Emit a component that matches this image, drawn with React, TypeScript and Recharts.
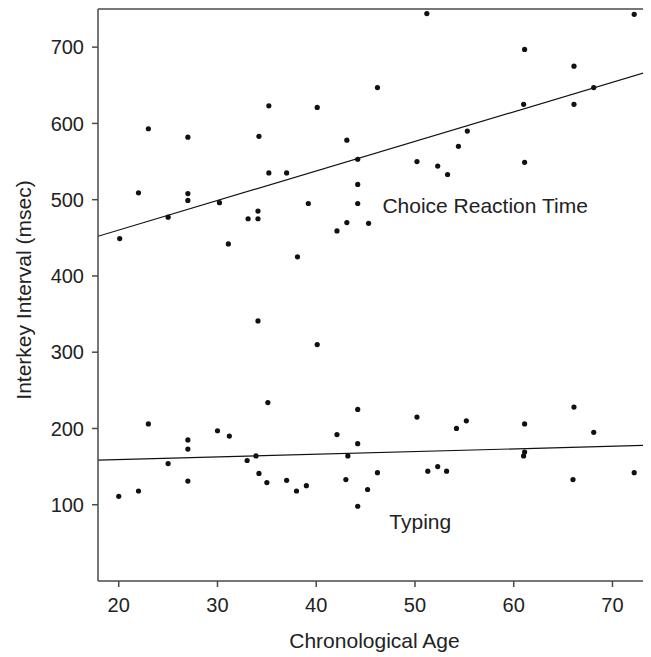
import React from "react";
import {
  ScatterChart,
  Scatter,
  XAxis,
  YAxis,
  ReferenceLine,
  ReferenceDot,
  Line,
  ComposedChart,
} from "recharts";

const xTicks = [20, 30, 40, 50, 60, 70];
const yTicks = [100, 200, 300, 400, 500, 600, 700];

const crtAge = [20.1, 22.0, 23.0, 25.0, 27.0, 27.0, 27.0, 30.2, 31.1, 33.1, 34.1, 34.1, 34.2, 35.2, 35.2, 37.0, 38.1, 39.2, 40.1, 42.1, 43.1, 43.1, 44.2, 44.2, 44.2, 45.3, 46.2, 50.2, 51.2, 52.3, 53.3, 54.4, 55.3, 61.0, 61.1, 61.1, 66.1, 66.1, 68.1, 72.2];
const crtMs = [449, 509, 593, 477, 582, 508, 499, 496, 442, 475, 475, 485, 583, 623, 535, 535, 425, 495, 621, 459, 578, 470, 553, 520, 495, 469, 647, 550, 744, 544, 533, 570, 590, 625, 697, 549, 675, 625, 647, 743];

const typingAge = [20.0, 22.0, 23.0, 25.0, 27.0, 27.0, 27.0, 30.0, 31.2, 33.0, 33.9, 34.1, 34.2, 35.1, 35.0, 37.0, 38.0, 39.0, 40.1, 42.1, 43.0, 43.2, 44.2, 44.2, 44.2, 45.2, 46.2, 50.2, 51.3, 52.3, 53.2, 54.2, 55.2, 61.1, 61.1, 61.0, 66.1, 66.0, 68.1, 72.2];
const typingMs = [111, 118, 206, 154, 185, 173, 131, 197, 190, 158, 164, 341, 141, 234, 129, 132, 118, 125, 310, 192, 133, 164, 225, 180, 98, 120, 142, 215, 144, 150, 144, 200, 210, 206, 169, 164, 228, 133, 195, 142];

const fitAge = [17.9, 73.9];
const crtFit = [452, 669];
const typingFit = [158.5, 178.1];

const crtData = crtAge.map((a, i) => ({ age: a, ms: crtMs[i] }));
const typingData = typingAge.map((a, i) => ({ age: a, ms: typingMs[i] }));
const crtFitData = fitAge.map((a, i) => ({ age: a, ms: crtFit[i] }));
const typingFitData = fitAge.map((a, i) => ({ age: a, ms: typingFit[i] }));

const FONT = "'Liberation Sans', Arial, Helvetica, sans-serif";
const AXIS = "#4a4a4a";
const TEXT = "#222";

const Dot = (props: any) => {
  const { cx, cy } = props;
  if (cx == null || cy == null) return null;
  return <circle cx={cx} cy={cy} r={2.6} fill="#111" />;
};

const makeText = (label: string) => (props: any) => {
  const { cx, cy } = props;
  return (
    <text x={cx} y={cy} fill={TEXT} fontSize={21} fontFamily={FONT} textAnchor="start">
      {label}
    </text>
  );
};

export default function App() {
  return (
    <div style={{ width: 643, height: 649 }}>
      <ComposedChart
        width={643}
        height={649}
        margin={{ top: 1, right: 0, bottom: 0, left: 0 }}
      >
        <XAxis
          dataKey="age"
          type="number"
          domain={[17.9, 73.9]}
          ticks={xTicks}
          allowDataOverflow
          height={76}
          stroke={AXIS}
          strokeWidth={1.5}
          tickSize={6}
          tickMargin={11}
          tick={{ fill: TEXT, fontSize: 20, fontFamily: FONT }}
          label={{
            content: (p: any) => {
              const vb = p.viewBox;
              return (
                <text
                  x={vb.x + vb.width / 2}
                  y={vb.y + 67}
                  textAnchor="middle"
                  fill={TEXT}
                  fontSize={21}
                  fontFamily={FONT}
                >
                  Chronological Age
                </text>
              );
            },
          }}
        />
        <YAxis
          dataKey="ms"
          type="number"
          domain={[0, 750]}
          ticks={yTicks}
          allowDataOverflow
          width={90}
          stroke={AXIS}
          strokeWidth={1.5}
          tickSize={6}
          tickMargin={8}
          tick={{ fill: TEXT, fontSize: 20, fontFamily: FONT }}
          label={{
            content: (p: any) => {
              const vb = p.viewBox;
              const x = vb.x + 15;
              const y = vb.y + vb.height / 2 - 5;
              return (
                <text
                  x={x}
                  y={y}
                  transform={`rotate(-90 ${x} ${y})`}
                  textAnchor="middle"
                  dominantBaseline="central"
                  fill={TEXT}
                  fontSize={21}
                  fontFamily={FONT}
                >
                  Interkey Interval (msec)
                </text>
              );
            },
          }}
        />
        <ReferenceLine y={750} stroke={AXIS} strokeWidth={1.5} />
        <Line
          data={crtFitData}
          dataKey="ms"
          stroke="#111"
          strokeWidth={1.2}
          dot={false}
          activeDot={false}
          isAnimationActive={false}
          type="linear"
        />
        <Line
          data={typingFitData}
          dataKey="ms"
          stroke="#111"
          strokeWidth={1.2}
          dot={false}
          activeDot={false}
          isAnimationActive={false}
          type="linear"
        />
        <Scatter data={crtData} dataKey="ms" shape={Dot} isAnimationActive={false} />
        <Scatter data={typingData} dataKey="ms" shape={Dot} isAnimationActive={false} />
        <ReferenceDot x={46.7} y={482} r={0} shape={makeText("Choice Reaction Time")} />
        <ReferenceDot x={47.4} y={68} r={0} shape={makeText("Typing")} />
      </ComposedChart>
    </div>
  );
}
